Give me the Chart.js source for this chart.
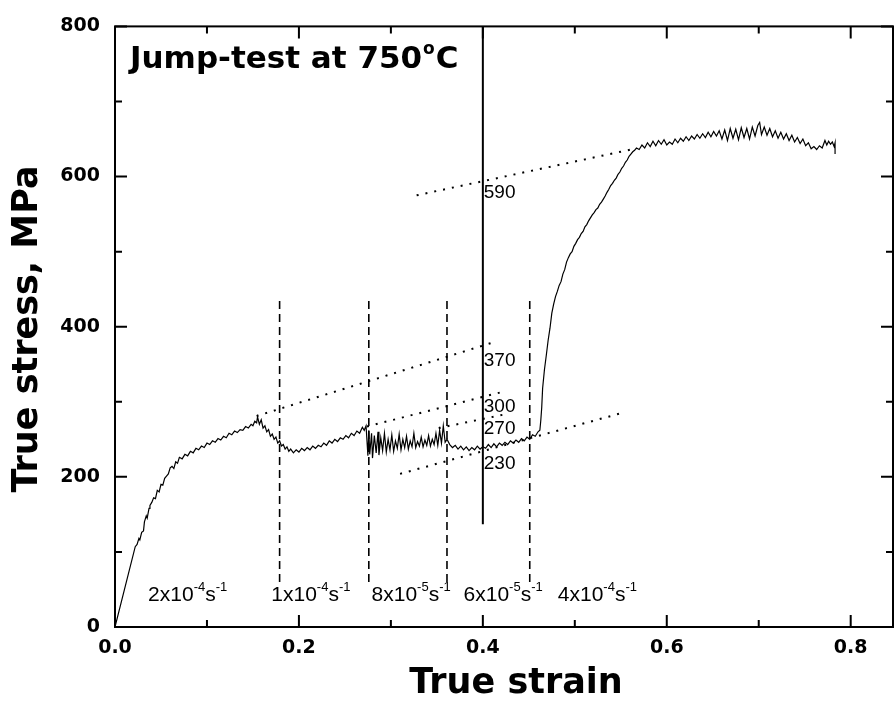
<!DOCTYPE html>
<html>
<head>
<meta charset="utf-8">
<script src="https://cdn.jsdelivr.net/npm/chart.js@4.4.1/dist/chart.umd.min.js"></script>
<style>
  html, body { margin: 0; padding: 0; background: #fff; }
  #wrap { width: 894px; height: 704px; }
</style>
</head>
<body>
<div id="wrap"><canvas id="jumpChart" width="894" height="704"></canvas></div>
<script>
const strain = [
  0, 0.022, 0.024, 0.026, 0.027, 0.029, 0.031, 0.032, 0.034, 0.035, 0.037, 0.038, 0.040, 0.042, 0.044, 0.046,
  0.048, 0.050, 0.052, 0.054, 0.056, 0.058, 0.060, 0.062, 0.064, 0.066, 0.068, 0.070, 0.073, 0.076, 0.079, 0.082,
  0.085, 0.088, 0.091, 0.094, 0.097, 0.100, 0.103, 0.106, 0.109, 0.112, 0.115, 0.118, 0.121, 0.124, 0.127, 0.130,
  0.133, 0.136, 0.139, 0.142, 0.145, 0.148, 0.150, 0.152, 0.154, 0.155,
  0.157, 0.159, 0.161, 0.163, 0.165, 0.167, 0.169, 0.171, 0.173, 0.175, 0.177, 0.179, 0.181, 0.183, 0.185, 0.187,
  0.189, 0.191, 0.194, 0.197, 0.200, 0.203, 0.206, 0.209, 0.212, 0.215, 0.218, 0.221, 0.224, 0.227, 0.230, 0.233,
  0.236, 0.239, 0.242, 0.245, 0.248, 0.251, 0.254, 0.257, 0.260, 0.263, 0.266, 0.269, 0.271, 0.273,
  0.275, 0.276, 0.277, 0.279, 0.280, 0.282, 0.284, 0.286, 0.287, 0.289, 0.291, 0.293, 0.295, 0.297, 0.299, 0.301,
  0.303, 0.305, 0.307, 0.309, 0.311, 0.313, 0.315, 0.317, 0.319, 0.321, 0.323, 0.325, 0.327, 0.329, 0.331, 0.333,
  0.335, 0.337, 0.339, 0.341, 0.343, 0.345, 0.347, 0.349, 0.351, 0.353, 0.355, 0.357, 0.359, 0.361,
  0.364, 0.367, 0.370, 0.373, 0.376, 0.379, 0.382, 0.385, 0.388, 0.391, 0.394, 0.397, 0.400, 0.403, 0.406, 0.409,
  0.412, 0.415, 0.418, 0.421, 0.424, 0.427, 0.430, 0.433, 0.436, 0.439, 0.442, 0.445, 0.448, 0.451, 0.454, 0.457,
  0.460, 0.462,
  0.463, 0.464, 0.465, 0.467, 0.469, 0.471, 0.473, 0.475, 0.477, 0.479, 0.481, 0.483, 0.485, 0.487, 0.489, 0.491,
  0.493, 0.495, 0.497, 0.499, 0.501, 0.503, 0.505, 0.507, 0.509, 0.511, 0.513, 0.515, 0.517, 0.519, 0.521, 0.523,
  0.525, 0.527, 0.529, 0.531, 0.533, 0.535, 0.537, 0.539, 0.541, 0.543, 0.545, 0.547, 0.549, 0.551, 0.553, 0.555,
  0.557, 0.559, 0.561, 0.563, 0.565, 0.567,
  0.570, 0.573, 0.576, 0.579, 0.582, 0.585, 0.588, 0.591, 0.594, 0.597, 0.600, 0.603, 0.606, 0.609, 0.612, 0.615,
  0.618, 0.621, 0.624, 0.627, 0.630, 0.633, 0.636, 0.639, 0.642, 0.645, 0.648, 0.651, 0.654, 0.657, 0.660, 0.663,
  0.666, 0.669, 0.672, 0.675, 0.678, 0.681, 0.684, 0.687, 0.690, 0.693, 0.696, 0.699, 0.701, 0.703, 0.706, 0.709,
  0.712, 0.715, 0.718, 0.721, 0.724, 0.727, 0.730, 0.733, 0.736, 0.739, 0.742, 0.745, 0.748, 0.751, 0.754, 0.757,
  0.760, 0.763, 0.766, 0.769, 0.772, 0.774, 0.776, 0.778, 0.780, 0.782, 0.783, 0.783
];
const stress = [
  0, 107, 110, 118, 116, 126, 128, 140, 148, 145, 158, 162, 166, 172, 171, 182,
  180, 190, 189, 198, 201, 204, 212, 214, 211, 220, 218, 226, 224, 230, 228, 234,
  232, 238, 236, 241, 239, 245, 243, 248, 246, 251, 249, 254, 252, 258, 256, 261,
  259, 263, 262, 267, 265, 270, 268, 274, 272, 280,
  270, 276, 265, 268, 260, 263, 254, 257, 250, 253, 245, 248, 241, 243, 237, 240,
  234, 237, 232, 236, 233, 238, 235, 239, 236, 241, 238, 242, 240, 245, 242, 248,
  245, 250, 247, 252, 250, 255, 252, 258, 255, 261, 258, 266, 262, 268,
  228, 262, 230, 258, 225, 255, 232, 260, 229, 252, 235, 258, 233, 250, 236, 256,
  234, 248, 238, 257, 236, 250, 239, 254, 237, 248, 240, 258, 239, 247, 241, 253,
  240, 249, 242, 255, 241, 250, 243, 258, 242, 262, 245, 268, 246, 250,
  243, 239, 242, 237, 241, 236, 240, 235, 239, 236, 241, 237, 240, 238, 243, 239,
  244, 240, 245, 242, 246, 243, 248, 245, 249, 246, 251, 248, 253, 250, 256, 254,
  260, 262,
  275, 292, 318, 343, 362, 382, 398, 418, 430, 440, 447, 455, 460, 470, 476, 486,
  492, 497, 500, 507, 511, 516, 519, 524, 527, 533, 536, 541, 545, 549, 552, 556,
  558, 563, 566, 570, 574, 579, 583, 588, 591, 595, 598, 603, 606, 611, 614, 619,
  622, 627, 630, 633, 635, 638,
  636, 642, 638, 645, 640, 647, 641, 648, 643, 649, 642, 646, 643, 650, 645, 651,
  647, 653, 648, 654, 650, 656, 651, 657, 652, 659, 653, 660, 654, 661, 650, 662,
  648, 664, 651, 663, 649, 665, 652, 664, 650, 666, 654, 668, 672, 656, 666, 655,
  664, 653, 661, 651, 659, 650, 657, 648, 655, 646, 652, 644, 650, 641, 645, 637,
  640, 636, 641, 638, 648, 642, 647, 643, 646, 640, 645, 630
];

// Strain-rate jump positions (dashed verticals) and their stress extent
const jumpStrains = [0.179, 0.276, 0.361, 0.451];
const jumpSpan = [60, 437];

// Solid reference line at strain 0.4
const refStrain = 0.4;
const refSpan = [137, 800];

// Dotted extrapolation lines: start/end strain and stress
const fitStrains = [[0.328, 0.565], [0.154, 0.411], [0.274, 0.424], [0.352, 0.427], [0.310, 0.551]];
const fitStress = [[575, 637], [281, 379], [267, 314], [265, 284], [204, 285]];

// Stresses read at strain 0.4 and the strain-rate labels
const readValues = ["590", "370", "300", "270", "230"];
const rateBase = ["2x10", "1x10", "8x10", "6x10", "4x10"];
const rateExp = ["-4", "-4", "-5", "-5", "-4"];

const xTickValues = [0, 0.2, 0.4, 0.6, 0.8];
const yTickValues = [0, 200, 400, 600, 800];

const curvePoints = strain.map((s, i) => ({ x: s, y: stress[i] }));

const datasets = [];
datasets.push({ data: curvePoints, borderColor: "#000", borderWidth: 1.2 });
jumpStrains.forEach((s) => {
  datasets.push({
    data: [{ x: s, y: jumpSpan[0] }, { x: s, y: jumpSpan[1] }],
    borderColor: "#000", borderWidth: 1.6, borderDash: [8, 5]
  });
});
datasets.push({
  data: [{ x: refStrain, y: refSpan[0] }, { x: refStrain, y: refSpan[1] }],
  borderColor: "#000", borderWidth: 2
});
fitStrains.forEach((xs, i) => {
  datasets.push({
    data: [{ x: xs[0], y: fitStress[i][0] }, { x: xs[1], y: fitStress[i][1] }],
    borderColor: "#000", borderWidth: 2, borderDash: [2, 7]
  });
});

// Frame with inward ticks, axis titles and in-plot annotations
const frameAndNotes = {
  id: "frameAndNotes",
  afterDraw(chart) {
    const { ctx, chartArea: a, scales: { x, y } } = chart;
    ctx.save();
    ctx.strokeStyle = "#000";
    ctx.lineWidth = 2;
    ctx.strokeRect(a.left, a.top, a.right - a.left, a.bottom - a.top);

    ctx.beginPath();
    for (let i = 0; i <= 8; i++) {
      const px = x.getPixelForValue(i / 10);
      const len = i % 2 === 0 ? 12 : 7;
      ctx.moveTo(px, a.bottom); ctx.lineTo(px, a.bottom - len);
      ctx.moveTo(px, a.top); ctx.lineTo(px, a.top + len);
    }
    for (let i = 0; i <= 8; i++) {
      const py = y.getPixelForValue(i * 100);
      const len = i % 2 === 0 ? 12 : 7;
      ctx.moveTo(a.left, py); ctx.lineTo(a.left + len, py);
      ctx.moveTo(a.right, py); ctx.lineTo(a.right - len, py);
    }
    ctx.stroke();

    ctx.fillStyle = "#000";

    // plot title
    ctx.textAlign = "left";
    ctx.textBaseline = "alphabetic";
    ctx.font = "bold 31px 'DejaVu Sans'";
    const head = "Jump-test at 750";
    ctx.fillText(head, 130, 68);
    let hx = 130 + ctx.measureText(head).width;
    ctx.font = "bold 17px 'DejaVu Sans'";
    ctx.fillText("o", hx + 1, 54);
    hx += ctx.measureText("o").width + 2;
    ctx.font = "bold 31px 'DejaVu Sans'";
    ctx.fillText("C", hx, 68);

    // axis titles
    ctx.font = "bold 35px 'DejaVu Sans'";
    ctx.textAlign = "center";
    ctx.textBaseline = "middle";
    ctx.fillText("True strain", 516, 684);
    ctx.save();
    ctx.translate(28, 329);
    ctx.rotate(-Math.PI / 2);
    ctx.fillText("True stress, MPa", 0, 0);
    ctx.restore();

    // stress values read on the 0.4 line
    ctx.font = "19px 'Liberation Sans'";
    ctx.textAlign = "left";
    const readAt = [578, 354, 294, 264, 217];
    readValues.forEach((t, i) => {
      ctx.fillText(t, x.getPixelForValue(0.401), y.getPixelForValue(readAt[i]));
    });

    // strain-rate labels
    const rateAt = [0.036, 0.170, 0.279, 0.379, 0.4815];
    ctx.textBaseline = "alphabetic";
    rateBase.forEach((b, i) => {
      let px = x.getPixelForValue(rateAt[i]);
      const py = y.getPixelForValue(35);
      ctx.font = "21px 'Liberation Sans'";
      ctx.fillText(b, px, py);
      px += ctx.measureText(b).width;
      ctx.font = "13px 'Liberation Sans'";
      ctx.fillText(rateExp[i], px, py - 10);
      px += ctx.measureText(rateExp[i]).width;
      ctx.font = "21px 'Liberation Sans'";
      ctx.fillText("s", px, py);
      px += ctx.measureText("s").width;
      ctx.font = "13px 'Liberation Sans'";
      ctx.fillText("-1", px, py - 10);
    });
    ctx.restore();
  }
};

const tickFont = { family: "DejaVu Sans", size: 19, weight: "bold" };

new Chart(document.getElementById("jumpChart"), {
  type: "scatter",
  data: { datasets: datasets },
  options: {
    responsive: false,
    animation: false,
    devicePixelRatio: 1,
    layout: { padding: { top: 15, right: 1, bottom: 0, left: 0 } },
    elements: { point: { radius: 0 }, line: { tension: 0 } },
    datasets: { scatter: { showLine: true, pointRadius: 0 } },
    plugins: { legend: { display: false }, tooltip: { enabled: false } },
    scales: {
      x: {
        type: "linear", min: 0, max: 0.846,
        afterFit: (s) => { s.height = 77; },
        afterBuildTicks: (s) => { s.ticks = xTickValues.map((v) => ({ value: v })); },
        ticks: { font: tickFont, color: "#000", padding: 10, callback: (v) => v.toFixed(1) },
        grid: { display: false, drawTicks: false },
        border: { display: false }
      },
      y: {
        type: "linear", min: 0, max: 800,
        afterFit: (s) => { s.width = 115; },
        afterBuildTicks: (s) => { s.ticks = yTickValues.map((v) => ({ value: v })); },
        ticks: { font: tickFont, color: "#000", padding: 15 },
        grid: { display: false, drawTicks: false },
        border: { display: false }
      }
    }
  },
  plugins: [frameAndNotes]
});
</script>
</body>
</html>
